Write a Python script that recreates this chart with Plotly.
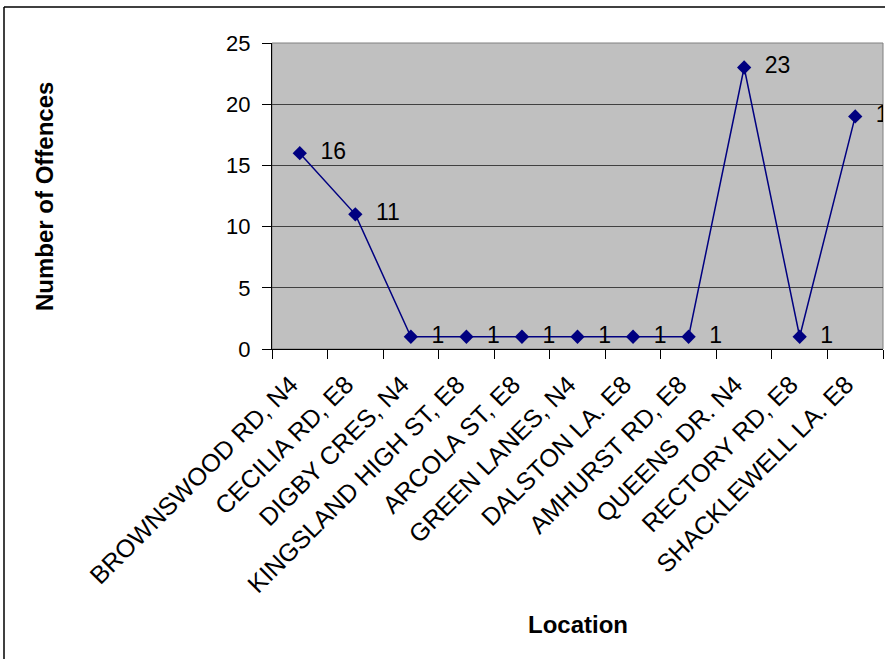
import plotly.graph_objects as go

# Offences recorded per location
locations = [
    "BROWNSWOOD RD, N4",
    "CECILIA RD, E8",
    "DIGBY CRES, N4",
    "KINGSLAND HIGH ST, E8",
    "ARCOLA ST, E8",
    "GREEN LANES, N4",
    "DALSTON LA. E8",
    "AMHURST RD, E8",
    "QUEENS DR. N4",
    "RECTORY RD, E8",
    "SHACKLEWELL LA. E8",
]
offences = [16, 11, 1, 1, 1, 1, 1, 1, 23, 1, 19]
y_ticks = [0, 5, 10, 15, 20, 25]

W, H = 885, 659
L, R, T, B = 272, 2, 43, 310
plot_w = W - L - R
plot_h = H - T - B

FONT = "Arial, 'Liberation Sans', sans-serif"
NAVY = "#000080"
NBSP = "\u00a0"


def px_x(px):
    return (px - L) / plot_w


def px_y(py):
    return (H - B - py) / plot_h


fig = go.Figure()
fig.add_trace(
    go.Scatter(
        x=locations,
        y=offences,
        mode="lines+markers+text",
        text=[str(v) for v in offences],
        texttemplate=NBSP * 2 + "%{text}",
        textposition="middle right",
        textfont=dict(family=FONT, size=23, color="black"),
        cliponaxis=True,
        line=dict(color=NAVY, width=1.5),
        marker=dict(symbol="diamond", size=11, color=NAVY),
        showlegend=False,
        hoverinfo="x+y",
    )
)

fig.update_layout(
    width=W,
    height=H,
    margin=dict(l=L, r=R, t=T, b=B, autoexpand=False),
    paper_bgcolor="white",
    plot_bgcolor="#C0C0C0",
    font=dict(family=FONT, color="black"),
    xaxis=dict(
        type="category",
        range=[-0.5, len(locations) - 0.5],
        tickson="boundaries",
        ticks="outside",
        ticklen=9,
        tickwidth=1,
        tickcolor="black",
        showline=True,
        linecolor="black",
        linewidth=1,
        showgrid=False,
        tickangle=-45,
        ticklabelstandoff=10,
        ticklabelshift=-9,
        tickfont=dict(family=FONT, size=25, color="black"),
    ),
    yaxis=dict(
        range=[0, 25],
        tickvals=y_ticks,
        ticks="outside",
        ticklen=9,
        tickwidth=1,
        tickcolor="black",
        showline=True,
        linecolor="black",
        linewidth=1,
        showgrid=True,
        gridcolor="#404040",
        gridwidth=1,
        zeroline=False,
        ticklabelstandoff=7,
        tickfont=dict(family=FONT, size=22, color="black"),
    ),
    shapes=[
        # plot-area frame
        dict(type="rect", xref="paper", yref="paper", x0=0, x1=1, y0=0, y1=1,
             line=dict(color="#808080", width=1), layer="below"),
        # chart-area border (left and top edges)
        dict(type="line", xref="paper", yref="paper",
             x0=px_x(4), x1=px_x(4), y0=px_y(H + 20), y1=px_y(7),
             line=dict(color="black", width=1.5)),
        dict(type="line", xref="paper", yref="paper",
             x0=px_x(4), x1=px_x(W + 20), y0=px_y(7), y1=px_y(7),
             line=dict(color="black", width=1.5)),
    ],
    annotations=[
        dict(text="<b>Number of Offences</b>", xref="paper", yref="paper",
             x=px_x(44), y=px_y(197), textangle=-90, showarrow=False,
             xanchor="center", yanchor="middle",
             font=dict(family=FONT, size=24, color="black")),
        dict(text="<b>Location</b>", xref="paper", yref="paper",
             x=px_x(578), y=px_y(624), showarrow=False,
             xanchor="center", yanchor="middle",
             font=dict(family=FONT, size=24, color="black")),
    ],
)

fig.write_html("out.html")
